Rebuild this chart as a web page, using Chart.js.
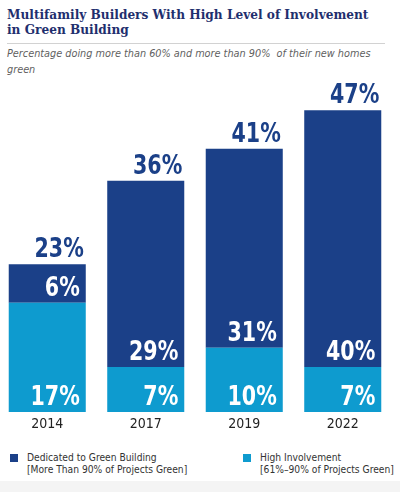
<!DOCTYPE html>
<html>
<head>
<meta charset="utf-8">
<script src="https://cdn.jsdelivr.net/npm/chart.js@4/dist/chart.umd.min.js"></script>
<style>
  html, body { margin: 0; padding: 0; background: #fff; }
  #page { position: relative; width: 400px; height: 492px; overflow: hidden; background: #fff; }
  #title {
    position: absolute; left: 7px; top: 7px; width: 392px;
    font-family: "DejaVu Serif Condensed", "DejaVu Serif", serif; font-stretch: condensed;
    font-weight: bold; font-size: 13.5px; line-height: 14.5px; color: #1f2f6e;
  }
  #rule { position: absolute; left: 7px; top: 43px; width: 378px; height: 1px; background: #d2d2d2; }
  #subtitle {
    position: absolute; left: 7px; top: 46px; width: 385px;
    font-family: "DejaVu Sans Condensed", "DejaVu Sans", sans-serif; font-stretch: condensed;
    font-style: italic; font-size: 10.8px; line-height: 16px; color: #5f5f5f;
  }
  #chartBox { position: absolute; left: -2px; top: 80px; width: 394px; height: 360px; }
  .leg { position: absolute; top: 452px; font-family: "DejaVu Sans Condensed", "DejaVu Sans", sans-serif;
    font-stretch: condensed; font-size: 10.2px; line-height: 11.5px; color: #333; }
  .leg .sw { position: absolute; left: 0; top: 2px; width: 8px; height: 8px; }
  .leg .tx { position: absolute; left: 17px; top: 0; white-space: nowrap; }
  #foot { position: absolute; left: 0; top: 481px; width: 400px; height: 11px; background: #f4f4f4; }
</style>
</head>
<body>
<div id="page">
  <div id="title">Multifamily Builders With High Level of Involvement<br>in Green Building</div>
  <div id="rule"></div>
  <div id="subtitle">Percentage doing more than 60% and more than 90%&nbsp; of their new homes<br>green</div>
  <div id="chartBox"><canvas id="bars"></canvas></div>
  <div class="leg" style="left:10px"><div class="sw" style="background:#1b4088"></div>
    <div class="tx">Dedicated to Green Building<br>[More Than 90% of Projects Green]</div></div>
  <div class="leg" style="left:243px"><div class="sw" style="background:#0e9bcf"></div>
    <div class="tx">High Involvement<br>[61%–90% of Projects Green]</div></div>
  <div id="foot"></div>
</div>
<script>
// values
const years = ["2014", "2017", "2019", "2022"];
const highInvolvement = [17, 7, 10, 7];   // 61%-90% green (light, bottom)
const dedicated = [6, 29, 31, 40];        // >90% green (dark, top)

const navy = "#1b4088";
const cyan = "#0e9bcf";
const labelFont = 'bold 26px "DejaVu Sans Condensed", "DejaVu Sans", sans-serif';

// narrow bold text, squeezed a bit to look like the condensed face in the original
function squeezed(ctx, text, right, baseline) {
  ctx.save();
  ctx.translate(right, baseline);
  ctx.scale(0.88, 1);
  ctx.fillText(text, 0, 0);
  ctx.restore();
}

// draws the white segment values and the navy totals above each bar
const valueLabels = {
  id: "valueLabels",
  afterDatasetsDraw(chart) {
    const ctx = chart.ctx;
    ctx.save();
    ctx.font = labelFont;
    ctx.textAlign = "right";
    ctx.textBaseline = "alphabetic";
    chart.data.datasets.forEach((ds, i) => {
      chart.getDatasetMeta(i).data.forEach((bar, j) => {
        ctx.fillStyle = "#fff";
        squeezed(ctx, ds.data[j] + "%", bar.x + bar.width / 2 - 6, bar.base - 7);
      });
    });
    chart.getDatasetMeta(1).data.forEach((bar, j) => {
      const total = highInvolvement[j] + dedicated[j];
      ctx.fillStyle = navy;
      squeezed(ctx, total + "%", bar.x + bar.width / 2 - 2, bar.y - 7);
    });
    ctx.restore();
  }
};

new Chart(document.getElementById("bars"), {
  type: "bar",
  data: {
    labels: years,
    datasets: [
      { label: "High Involvement", data: highInvolvement, backgroundColor: cyan },
      { label: "Dedicated to Green Building", data: dedicated, backgroundColor: navy }
    ]
  },
  options: {
    responsive: true,
    maintainAspectRatio: false,
    animation: false,
    events: [],
    datasets: { bar: { categoryPercentage: 1, barPercentage: 0.782 } },
    layout: { padding: 0 },
    plugins: { legend: { display: false }, tooltip: { enabled: false }, title: { display: false } },
    scales: {
      x: {
        stacked: true,
        grid: { display: false, drawTicks: false },
        border: { display: false },
        ticks: { color: "#222", padding: 4,
          font: { family: '"DejaVu Sans Condensed", "DejaVu Sans", sans-serif', size: 14 } },
        afterFit(scale) { scale.height = 28; }
      },
      y: { stacked: true, display: false, min: 0, max: 51.7 }
    }
  },
  plugins: [valueLabels]
});
</script>
</body>
</html>
